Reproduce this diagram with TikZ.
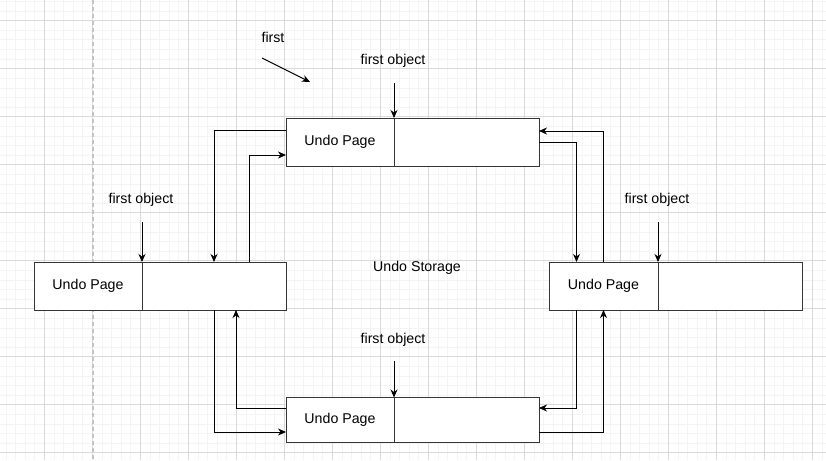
\documentclass[tikz,border=0pt]{standalone}
\usepackage{fontspec}
\setmainfont{Liberation Sans}
\usetikzlibrary{arrows.meta,positioning}
\definecolor{gridminor}{HTML}{F4F4F4}
\definecolor{gridmajor}{HTML}{DADADA}
\definecolor{pageline}{HTML}{363636}
\definecolor{guide}{HTML}{C4C4C4}
\tikzset{>={Stealth[length=8pt,width=7pt,inset=2.5pt]}}
\tikzset{font=\fontsize{14.2}{16}\selectfont}
\tikzset{pagebox/.style={draw=pageline, line width=1pt, fill=white,
    minimum height=48pt, inner sep=0pt, outer sep=0pt},
  flow/.style={->, line width=1pt}}

\begin{document}
\begin{tikzpicture}[x=1pt,y=-1pt]
  \useasboundingbox (0,0) rectangle (826,460);
  \fill[white] (0,0) rectangle (826,460);
  % background grid
  \begin{scope}
    \clip (0,0) rectangle (826,460);
    \foreach \i in {0,...,87}
      \draw[gridminor, line width=0.8pt] ({\i*9.6-3.7},0) -- ++(0,460);
    \foreach \i in {0,...,49}
      \draw[gridminor, line width=0.8pt] (0,{\i*9.6+1.5}) -- ++(826,0);
    \foreach \i in {0,...,17}
      \draw[gridmajor, line width=0.8pt] ({\i*48-3.7},0) -- ++(0,460);
    \foreach \i in {0,...,9}
      \draw[gridmajor, line width=0.8pt] (0,{\i*48+20.7}) -- ++(826,0);
    \draw[guide, line width=1.5pt, dash pattern=on 4pt off 3pt] (93,0) -- (93,460);
  \end{scope}

  % undo pages
  \node[pagebox, minimum width=108pt] (toppage) at (340,142) {Undo Page};
  \node[pagebox, minimum width=145pt, right=0pt of toppage] (topfree) {};
  \node[pagebox, minimum width=108pt] (leftpage) at (88,286) {Undo Page};
  \node[pagebox, minimum width=144pt, right=0pt of leftpage] (leftfree) {};
  \node[pagebox, minimum width=109pt] (rightpage) at (603.5,286) {Undo Page};
  \node[pagebox, minimum width=144pt, right=0pt of rightpage] (rightfree) {};
  \node[pagebox, minimum width=108pt, minimum height=45pt] (botpage) at (340,420) {Undo Page};
  \node[pagebox, minimum width=145pt, minimum height=45pt, right=0pt of botpage] (botfree) {};

  \node (storage) at (417,268) {Undo Storage};

  % first object markers
  \node (toplabel) at (393,61) {first object};
  \coordinate (topin) at (394,83);
  \draw[flow] (topin) -- (toppage.north east);
  \node (leftlabel) at (141,200) {first object};
  \coordinate (leftin) at (142,222);
  \draw[flow] (leftin) -- (leftpage.north east);
  \node (rightlabel) at (657,200) {first object};
  \coordinate (rightin) at (658,222);
  \draw[flow] (rightin) -- (rightpage.north east);
  \node (botlabel) at (393,340) {first object};
  \coordinate (botin) at (394,361);
  \draw[flow] (botin) -- (botpage.north east);

  \node (firstlabel) at (273,37) {first};
  \coordinate (firstfrom) at (262,58);
  \coordinate (firstto) at (310,82);
  \draw[flow] (firstfrom) -- (firstto);

  % links between pages
  \draw[flow] ([yshift=12pt]toppage.west) -| (leftfree.north);
  \draw[flow] ([xshift=35pt]leftfree.north) |- ([yshift=-13pt]toppage.west);
  \draw[flow] (topfree.east) -| ([xshift=-27pt]rightpage.north);
  \draw[flow] (rightpage.north) |- ([yshift=11pt]topfree.east);
  \draw[flow] ([xshift=-27pt]rightpage.south) |- ([yshift=12pt]botfree.east);
  \draw[flow] ([yshift=-12pt]botfree.east) -| (rightpage.south);
  \draw[flow] (leftfree.south) |- ([yshift=-12pt]botpage.west);
  \draw[flow] ([yshift=12pt]botpage.west) -| ([xshift=22pt]leftfree.south);
\end{tikzpicture}
\end{document}
